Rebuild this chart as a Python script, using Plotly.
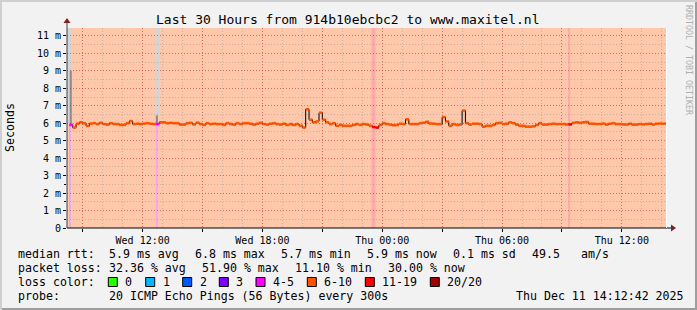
import plotly.graph_objects as go
import pandas as pd

# ---------------- data ----------------
range_start = "2025-12-10 08:12:42"
range_end = "2025-12-11 14:12:42"
sample_start = "2025-12-10 08:20:00"
sample_step = "10min"

# median RTT in ms (one value per 10-minute step)
median_ms = [
    5.90, 5.75, 5.97, 6.05, 6.00, 5.85, 5.98, 6.00, 5.95, 6.02,
    5.95, 5.92, 6.00, 5.95, 5.95, 5.90, 5.90, 6.00, 6.12, 5.95,
    5.97, 5.95, 5.98, 6.00, 5.97, 5.95, 5.95, 6.05, 6.05, 6.00,
    6.02, 6.00, 6.00, 5.92, 5.92, 6.00, 6.02, 5.93, 6.03, 5.95,
    5.90, 6.00, 5.95, 5.97, 5.95, 5.95, 5.90, 6.00, 5.95, 5.92,
    6.00, 5.95, 6.00, 6.00, 5.97, 5.92, 5.97, 6.02, 5.95, 5.92,
    5.97, 6.00, 5.95, 5.92, 5.97, 5.90, 5.95, 5.90, 5.95, 5.85,
    5.75, 6.80, 6.20, 6.05, 6.10, 6.60, 6.20, 6.05, 5.95, 6.00,
    5.85, 5.90, 5.85, 5.85, 5.85, 5.90, 5.95, 5.90, 5.95, 5.92,
    5.85, 5.78, 5.75, 5.90, 6.00, 5.95, 5.92, 5.88, 5.90, 5.97,
    5.95, 6.22, 5.95, 5.95, 5.95, 6.00, 6.02, 6.08, 5.98, 5.97,
    5.95, 5.95, 6.35, 6.10, 5.85, 5.95, 5.90, 5.92, 6.72, 6.00,
    5.92, 5.97, 5.97, 5.95, 5.80, 5.85, 5.85, 5.90, 6.00, 6.02,
    5.95, 5.97, 6.05, 6.00, 5.92, 5.85, 5.85, 5.80, 5.80, 5.82,
    5.90, 6.00, 5.92, 5.92, 5.95, 5.97, 5.95, 5.95, 5.95, 5.93,
    5.93, 6.02, 6.05, 6.02, 6.05, 6.07, 5.97, 5.97, 5.95, 5.95,
    5.98, 5.92, 5.97, 6.00, 5.95, 5.95, 5.93, 5.92, 5.97, 5.92,
    5.92, 5.95, 5.93, 5.95, 5.97, 5.92, 5.97, 5.98, 5.97, 5.98,
]

# lost pings out of 20 for each step
loss_pings = [
    4, 7, 7, 7, 7, 7, 7, 7, 7, 7,
    7, 7, 7, 7, 7, 7, 7, 7, 7, 7,
    7, 7, 7, 7, 7, 7, 5, 7, 7, 7,
    7, 7, 7, 7, 7, 7, 7, 7, 7, 7,
    7, 7, 7, 7, 7, 7, 7, 7, 7, 7,
    7, 7, 7, 7, 7, 7, 7, 7, 7, 7,
    7, 7, 7, 7, 7, 7, 7, 7, 7, 7,
    7, 7, 7, 7, 7, 7, 7, 7, 7, 7,
    7, 7, 7, 7, 7, 7, 7, 7, 7, 7,
    7, 11, 11, 7, 7, 7, 7, 7, 7, 7,
    7, 7, 7, 7, 7, 7, 7, 7, 7, 7,
    7, 7, 7, 7, 7, 7, 7, 7, 7, 7,
    7, 7, 7, 7, 7, 7, 7, 7, 7, 7,
    7, 7, 7, 7, 7, 7, 7, 7, 7, 7,
    7, 7, 7, 7, 7, 7, 7, 7, 7, 7,
    11, 7, 7, 7, 7, 7, 7, 7, 7, 7,
    7, 7, 7, 7, 7, 7, 7, 7, 7, 7,
    7, 7, 7, 7, 7, 7, 7, 7, 7, 7,
]

# periods without data (grey, top down to the given level in ms)
unknown_start = ["2025-12-10 08:12:42", "2025-12-10 12:36:42"]
unknown_end = ["2025-12-10 08:27:00", "2025-12-10 12:48:42"]
unknown_floor = [6.0, 6.45]

# smoke (spread of pings)
smoke_time = ["2025-12-10 08:24:00", "2025-12-10 12:42:42"]
smoke_low = [5.95, 5.97]
smoke_high = [9.0, 6.45]

# loss marker lines below the median
marker_time = ["2025-12-10 08:21:42", "2025-12-10 12:42:42"]
marker_top = [5.9, 5.95]
marker_color = ["#d9a3ff", "#ff9cf2"]

# full height loss bands
band_start = ["2025-12-10 23:27:42", "2025-12-11 09:18:42"]
band_end = ["2025-12-10 23:39:42", "2025-12-11 09:24:42"]

x_tickvals = ["2025-12-10 09:00", "2025-12-10 12:00", "2025-12-10 15:00",
              "2025-12-10 18:00", "2025-12-10 21:00", "2025-12-11 00:00",
              "2025-12-11 03:00", "2025-12-11 06:00", "2025-12-11 09:00",
              "2025-12-11 12:00"]
x_ticktext = ["", "Wed 12:00", "", "Wed 18:00", "", "Thu 00:00", "",
              "Thu 06:00", "", "Thu 12:00"]
y_tickvals = [0, 1, 2, 3, 4, 5, 6, 7, 8, 9, 10, 11]
y_ticktext = ["0", "1 m", "2 m", "3 m", "4 m", "5 m", "6 m", "7 m", "8 m",
              "9 m", "10 m", "11 m"]

loss_labels = ["0", "1", "2", "3", "4-5", "6-10", "11-19", "20/20"]
loss_colors = ["#26ff00", "#00b8ff", "#0059ff", "#7e00ff", "#ff00ff",
               "#ff5500", "#ff0000", "#a10000"]
loss_upper = [0, 1, 2, 3, 5, 10, 19, 20]

title_text = "Last 30 Hours from 914b10ebcbc2 to www.maxitel.nl"
stats_rows = [
    ["median rtt:", "5.9 ms avg", "6.8 ms max", "5.7 ms min", "5.9 ms now",
     "0.1 ms sd", "49.5", "am/s"],
    ["packet loss:", "32.36 % avg", "51.90 % max", "11.10 % min",
     "30.00 % now"],
]
probe_text = "20 ICMP Echo Pings (56 Bytes) every 300s"
date_text = "Thu Dec 11 14:12:42 2025"

# ---------------- layout geometry (pixels) ----------------
W, H = 697, 310
L, R, T, B = 67, 666, 28, 228
FONT = "DejaVu Sans Mono"


def fx(px):
    return (px - L) / (R - L)


def fy(py):
    return (B - py) / (B - T)


times = pd.date_range(sample_start, periods=len(median_ms), freq=sample_step)
step = pd.Timedelta(sample_step)

fig = go.Figure()

# black connecting step line
fig.add_trace(go.Scatter(
    x=list(times) + [times[-1] + step], y=median_ms + [median_ms[-1]],
    mode="lines", line=dict(color="#000000", width=1, shape="hv"),
    hoverinfo="skip"))


def loss_class(n):
    for k, up in enumerate(loss_upper):
        if n <= up:
            return k
    return len(loss_upper) - 1


for k, col in enumerate(loss_colors):
    xs, ys = [], []
    for i, v in enumerate(median_ms):
        if loss_class(loss_pings[i]) == k:
            xs += [times[i], times[i] + step, None]
            ys += [v, v, None]
    if xs:
        fig.add_trace(go.Scatter(x=xs, y=ys, mode="lines",
                                 line=dict(color=col, width=2.6),
                                 hoverinfo="skip"))

shapes = []
# unknown (grey) areas
for s, e, f in zip(unknown_start, unknown_end, unknown_floor):
    shapes.append(dict(type="rect", xref="x", yref="y", x0=s, x1=e, y0=f,
                       y1=11.45, fillcolor="#d4d4d4", line=dict(width=0),
                       layer="below"))
for t, lo, hi in zip(smoke_time, smoke_low, smoke_high):
    shapes.append(dict(type="line", xref="x", yref="y", x0=t, x1=t, y0=lo,
                       y1=hi, line=dict(color="#8a8a8a", width=2),
                       layer="below"))
for t, top, c in zip(marker_time, marker_top, marker_color):
    shapes.append(dict(type="line", xref="x", yref="y", x0=t, x1=t, y0=0,
                       y1=top, line=dict(color=c, width=1.5), layer="below"))
for s, e in zip(band_start, band_end):
    shapes.append(dict(type="rect", xref="x", yref="paper", x0=s, x1=e,
                       y0=0, y1=1, fillcolor="#ffa9ab", line=dict(width=0),
                       layer="below"))

# axes lines with arrows
shapes.append(dict(type="line", xref="paper", yref="paper", x0=0, x1=fx(672),
                   y0=0, y1=0, line=dict(color="#000000", width=1)))
shapes.append(dict(type="line", xref="paper", yref="paper", x0=0, x1=0,
                   y0=0, y1=fy(22), line=dict(color="#404040", width=1)))
shapes.append(dict(type="path", xref="paper", yref="paper",
                   path=f"M {fx(671)} {fy(224.5)} L {fx(676)} {fy(228)} L {fx(671)} {fy(231.5)} Z",
                   fillcolor="#7f1f1f", line=dict(width=0)))
shapes.append(dict(type="path", xref="paper", yref="paper",
                   path=f"M {fx(63.5)} {fy(23)} L {fx(67)} {fy(18)} L {fx(70.5)} {fy(23)} Z",
                   fillcolor="#7f1f1f", line=dict(width=0)))
# white canvas edge on the right
shapes.append(dict(type="line", xref="paper", yref="paper", x0=fx(666.5),
                   x1=fx(666.5), y0=0, y1=1, line=dict(color="#ffffff", width=1)))

# frame (3D shade)
shapes.append(dict(type="rect", xref="paper", yref="paper", x0=fx(0), x1=fx(W),
                   y0=fy(0), y1=fy(2), fillcolor="#cfcfcf", line=dict(width=0)))
shapes.append(dict(type="rect", xref="paper", yref="paper", x0=fx(0), x1=fx(2),
                   y0=fy(0), y1=fy(H), fillcolor="#cfcfcf", line=dict(width=0)))
shapes.append(dict(type="rect", xref="paper", yref="paper", x0=fx(2), x1=fx(W),
                   y0=fy(H - 2), y1=fy(H), fillcolor="#9e9e9e", line=dict(width=0)))
shapes.append(dict(type="rect", xref="paper", yref="paper", x0=fx(W - 2), x1=fx(W),
                   y0=fy(2), y1=fy(H), fillcolor="#9e9e9e", line=dict(width=0)))

annotations = []


def text(px, py, s, size=11.6, anchor="left", color="#000000", angle=0):
    annotations.append(dict(xref="paper", yref="paper", x=fx(px), y=fy(py),
                            text=s, showarrow=False, xanchor=anchor,
                            yanchor="middle", textangle=angle,
                            font=dict(family=FONT, size=size, color=color)))


text(347.5, 19, title_text, size=13, anchor="center")
text(10, 128, "Seconds", size=11.6, anchor="center", angle=-90)
text(689, 60, "RRDTOOL / TOBI OETIKER", size=8.3, anchor="center",
     color="#b0b0b0", angle=90)

row_x = [[16, 107.3, 193.3, 279.3, 365.3, 451.3, 529.7, 579.3],
         [16, 107.3, 200, 293.3, 386.3]]
row_y = [254.3, 268.3]
for r, items in enumerate(stats_rows):
    for s, px in zip(items, row_x[r]):
        text(px, row_y[r], s)

text(16, 282, "loss color:")
box_x = [108.3, 145.7, 182.7, 219.3, 256, 307.3, 365.3, 430.3]
for lbl, col, bx in zip(loss_labels, loss_colors, box_x):
    shapes.append(dict(type="rect", xref="paper", yref="paper", x0=fx(bx),
                       x1=fx(bx + 9), y0=fy(277.5), y1=fy(286.5),
                       fillcolor=col, line=dict(color="#000000", width=1)))
    text(bx + 15, 282, lbl)

text(16, 296.3, "probe:")
text(107.3, 296.3, probe_text)
text(513.7, 296.3, date_text)

fig.update_layout(
    width=W, height=H, autosize=False,
    margin=dict(l=L, r=W - R, t=T, b=H - B, pad=0),
    paper_bgcolor="#f2f2f2", plot_bgcolor="#ffc8aa",
    showlegend=False, hovermode=False,
    shapes=shapes, annotations=annotations,
    font=dict(family=FONT, size=10, color="#000000"),
    xaxis=dict(type="date", range=[range_start, range_end],
               tickmode="array", tickvals=x_tickvals, ticktext=x_ticktext,
               showgrid=True, gridcolor="rgba(240,0,0,0.38)",
               griddash="1px,2px", gridwidth=1,
               ticks="outside", ticklen=3, tickcolor="#000000",
               showline=False, zeroline=False,
               tickfont=dict(family=FONT, size=10),
               minor=dict(dtick=3600000, tick0="2025-12-10 00:00",
                          showgrid=True, gridcolor="rgba(143,143,143,0.45)",
                          griddash="1px,2px", ticks="")),
    yaxis=dict(range=[0, 11.45], tickmode="array", tickvals=y_tickvals,
               ticktext=y_ticktext, showgrid=True,
               gridcolor="rgba(240,0,0,0.38)", griddash="1px,2px",
               ticks="outside", ticklen=3, tickcolor="#000000",
               showline=False, zeroline=False,
               tickfont=dict(family=FONT, size=10),
               minor=dict(dtick=0.5, tick0=0, showgrid=True,
                          gridcolor="rgba(143,143,143,0.45)",
                          griddash="1px,2px", ticks="outside", ticklen=2,
                          tickcolor="#000000")),
)

fig.write_html("out.html")
